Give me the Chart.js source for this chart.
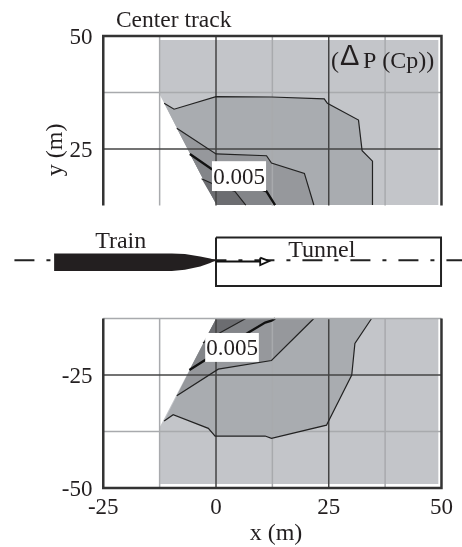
<!DOCTYPE html>
<html><head><meta charset="utf-8">
<style>html,body{margin:0;padding:0;background:#fff}canvas{display:block}</style>
<script src="https://cdn.jsdelivr.net/npm/chart.js@4/dist/chart.umd.min.js"></script>
</head><body><canvas id="c" width="462" height="547"></canvas>
<script>
const xTickValues=[-25,0,25,50];
const yTickValues=[50,25,-25,-50];
const gridDarkX=[0,25];
const gridLightX=[-12.5,12.5,37.5];
const gridDarkY=[25,-25];
const gridLightY=[37.5,-37.5];

const upperBaseX=[-12.4,-12.4,49.3,49.3,0.1];
const upperBaseY=[36.9,49.1,49.1,12.6,12.6];
const upperL2X=[-11.5,-9.3,0,12.3,24,24.7,31.6,32.4,34.7,34.7];
const upperL2Y=[35.1,33.8,36.6,36.5,36.1,35.1,31.4,24.6,22.3,12.6];
const upperL3X=[-8.7,0,11.2,12.3,19.6,21.7];
const upperL3Y=[29.6,23.9,23.5,21.9,19.6,12.6];
const upperL4X=[-5.8,-1,5,11.2,13.1];
const upperL4Y=[23.9,20.6,18,15.6,12.6];
const upperL5X=[-3.2,-0.5,4.2,6.6];
const upperL5Y=[18.4,17.2,15.6,12.6];

const lowerBaseX=[-12.4,-12.4,49.3,49.3,0];
const lowerBaseY=[-36.4,-49.1,-49.1,-12.5,-12.5];
const lowerL2X=[-11.5,-9.5,-1.7,-0.2,10.9,12.3,24.5,30.1,30.8,34.5];
const lowerL2Y=[-35.2,-33.8,-36.8,-38.5,-38.5,-39,-36.1,-25,-18,-12.5];
const lowerL3X=[-8.7,0.5,12.3,21.7];
const lowerL3Y=[-29.6,-23.7,-21.8,-12.5];
const lowerL4X=[-5.9,-2.4,2,7.2,10.9,12.3,13.1];
const lowerL4Y=[-23.9,-21.7,-19,-15.6,-13.4,-13,-12.5];
const lowerL5X=[-2.9,1,6.6];
const lowerL5Y=[-17.9,-15.6,-12.5];

const trainX=[-35.9,-35.9,-9.8,-6.9,-3.5,-1.3,0,-1.3,-3.5,-6.9,-9.8];
const trainY=[-2,1.9,1.9,1.75,1.2,0.8,0.4,-0.2,-1,-1.7,-2];
const tunnelX=[0,49.9,49.9,0,0];
const tunnelY=[5.4,5.4,-5.3,-5.3,5.4];
const axisLineX=[-44.7,54.6];
const axisLineY=[0.4,0.4];
const arrowX=[0,9.8];
const arrowY=[0.1,0.1];
const arrowHeadX=[9.8,11.8,9.8,9.8];
const arrowHeadY=[0.95,0.2,-0.7,0.95];

const upperFrameX=[-25,-25,50,50];
const upperFrameY=[12.5,50,50,12.5];
const lowerFrameX=[-25,-25,50,50];
const lowerFrameY=[-12.5,-50,-50,-12.5];
const lowerTopX=[-25,50];
const lowerTopY=[-12.5,-12.5];

const texts=[
 {t:'Center track',x:-22.2,y:52,font:'23.5px "Liberation Serif"'},
 {t:'(',x:25.5,y:42.9},
 {t:'\u0394',x:27.5,y:43.6,font:'29px "Liberation Sans"'},
 {t:'P (Cp))',x:32.6,y:42.9},
 {t:'Train',x:-26.8,y:3.1},
 {t:'Tunnel',x:16,y:1.2},
 {t:'x (m)',x:13.3,y:-61.6,align:'center'},
 {t:'y (m)',x:-34.1,y:24.8,align:'center',rot:true}
];
const boxes=[
 {t:'0.005',x0:-0.9,x1:11.1,y0:22.3,y1:15.7},
 {t:'0.005',x0:-2.4,x1:9.5,y0:-15.7,y1:-22.1}
];

const zip=(xs,ys)=>xs.map((x,i)=>({x,y:ys[i]}));
const ds=[];
function poly(xs,ys,color){ds.push({data:zip(xs,ys),showLine:true,fill:'shape',backgroundColor:color,borderWidth:0,pointRadius:0,tension:0,clip:false});}
function line(xs,ys,color,w,dash){ds.push({data:zip(xs,ys),showLine:true,fill:false,borderColor:color,borderWidth:w,borderDash:dash||[],pointRadius:0,tension:0,clip:false,borderCapStyle:'butt',borderJoinStyle:'miter'});}

const C1='#c3c5c9',C2='#a9acb0',C3='#96989c',C4='#838589',C5='#6c6d71';
poly(upperBaseX,upperBaseY,C1);
poly([...upperL2X,0.1],[...upperL2Y,12.6],C2);
poly([...upperL3X,0.2],[...upperL3Y,12.6],C3);
poly([...upperL4X,0.2],[...upperL4Y,12.6],C4);
poly([...upperL5X,0.2],[...upperL5Y,12.6],C5);
poly(lowerBaseX,lowerBaseY,C1);
poly([...lowerL2X,0],[...lowerL2Y,-12.5],C2);
poly([...lowerL3X,0.1],[...lowerL3Y,-12.5],C3);
poly([...lowerL4X,0.1],[...lowerL4Y,-12.5],C4);
poly([...lowerL5X,0.1],[...lowerL5Y,-12.5],C5);

gridLightX.forEach(v=>{line([v,v],[12.5,50],'#a8aaad',1.5);line([v,v],[-12.5,-50],'#a8aaad',1.5);});
gridLightY.forEach(v=>line([-25,50],[v,v],'#a8aaad',1.5));
gridDarkX.forEach(v=>{line([v,v],[12.5,50],'#444',1.5);line([v,v],[-12.5,-50],'#444',1.5);});
gridDarkY.forEach(v=>line([-25,50],[v,v],'#444',1.5));

line(upperL2X,upperL2Y,'#222',1.2);
line(upperL3X,upperL3Y,'#222',1.2);
line(upperL4X,upperL4Y,'#111',2.4);
line(upperL5X,upperL5Y,'#222',1.2);
line(lowerL2X,lowerL2Y,'#222',1.2);
line(lowerL3X,lowerL3Y,'#222',1.2);
line(lowerL4X,lowerL4Y,'#111',2.4);
line(lowerL5X,lowerL5Y,'#222',1.2);

line(lowerTopX,lowerTopY,'#a8aaad',1.5);
line(upperFrameX,upperFrameY,'#333',2.5);
line(lowerFrameX,lowerFrameY,'#333',2.5);

line(axisLineX,axisLineY,'#222',2,[20,12,4,12]);
line(tunnelX,tunnelY,'#222',2);
poly(trainX,trainY,'#231f20');
line(arrowX,arrowY,'#111',2);
ds.push({data:zip(arrowHeadX,arrowHeadY),showLine:true,fill:'shape',backgroundColor:'#fff',borderColor:'#111',borderWidth:1.8,pointRadius:0,tension:0,clip:false});

const textPlugin={id:'textPlugin',afterDatasetsDraw(chart){
 const {ctx,scales:{x:sx,y:sy}}=chart;
 ctx.save();
 ctx.textBaseline='alphabetic';
 ctx.fillStyle='#231f20';
 const serif='24px "Liberation Serif"';
 for(const b of boxes){
  const l=sx.getPixelForValue(b.x0),r=sx.getPixelForValue(b.x1),t=sy.getPixelForValue(b.y0),bt=sy.getPixelForValue(b.y1);
  ctx.fillStyle='#fff';ctx.fillRect(l,t,r-l,bt-t);
  ctx.fillStyle='#231f20';ctx.font='23px "Liberation Serif"';ctx.textAlign='center';
  ctx.fillText(b.t,(l+r)/2,(t+bt)/2+8);
 }
 for(const a of texts){
  ctx.font=a.font||serif;ctx.textAlign=a.align||'left';
  const px=sx.getPixelForValue(a.x),py=sy.getPixelForValue(a.y);
  if(a.rot){ctx.save();ctx.translate(px,py);ctx.rotate(-Math.PI/2);ctx.fillText(a.t,0,0);ctx.restore();}
  else ctx.fillText(a.t,px,py);
 }
 ctx.restore();
}};

function flatten(s){s.width=s.axis==='y'?0:s.width;s.height=s.axis==='x'?0:s.height;s.paddingTop=s.paddingBottom=s.paddingLeft=s.paddingRight=0;}

new Chart(document.getElementById('c'),{
 type:'scatter',
 data:{datasets:ds.reverse()},
 options:{
  responsive:false,animation:false,events:[],
  layout:{padding:0},
  plugins:{legend:{display:false},tooltip:{enabled:false},title:{display:false}},
  scales:{
   x:{type:'linear',min:-47.9,max:54.55,position:{y:-50},
      grid:{display:false},border:{display:false},afterFit:flatten,
      afterBuildTicks(s){s.ticks=xTickValues.map(value=>({value}));},
      ticks:{autoSkip:false,maxRotation:0,minRotation:0,padding:-2,color:'#231f20',font:{family:'Liberation Serif',size:23},callback:v=>String(v)}},
   y:{type:'linear',min:-63.05,max:57.96,position:{x:-27.4},
      grid:{display:false},border:{display:false},afterFit:flatten,
      afterBuildTicks(s){s.ticks=yTickValues.map(value=>({value}));},
      ticks:{autoSkip:false,padding:0,labelOffset:1.5,color:'#231f20',font:{family:'Liberation Serif',size:23},callback:v=>String(v)}}
  }
 },
 plugins:[textPlugin]
});
</script></body></html>
